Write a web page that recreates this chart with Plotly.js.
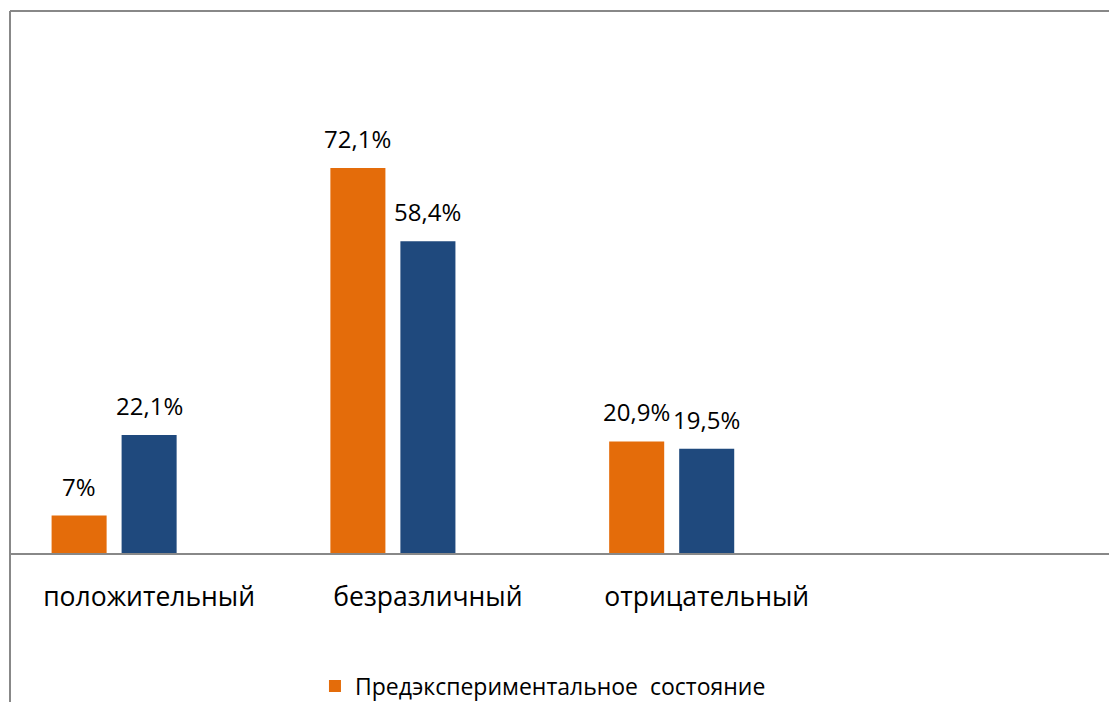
<!DOCTYPE html>
<html>
<head>
<meta charset="utf-8">
<script src="https://cdn.plot.ly/plotly-3.0.1.min.js"></script>
<style>html,body{margin:0;padding:0;background:#fff;}#chart{width:1109px;height:702px;}</style>
</head>
<body>
<div id="chart"></div>
<script>
var categories = ['положительный', 'безразличный', 'отрицательный'];
var seriesNames = ['Предэкспериментальное  состояние', 'Постэкспериментальное  состояние'];
var preValues = [7, 72.1, 20.9];
var postValues = [22.1, 58.4, 19.5];
var preLabels = ['7%', '72,1%', '20,9%'];
var postLabels = ['22,1%', '58,4%', '19,5%'];
var emptyValues = [null, null, null];

var font = 'Open Sans, Noto Sans, sans-serif';

var traces = [
  {type: 'bar', name: seriesNames[0], x: categories, y: preValues,
   marker: {color: '#E46C0A'}, hoverinfo: 'skip', showlegend: true},
  {type: 'bar', name: seriesNames[1], x: categories, y: postValues,
   marker: {color: '#1F497D'}, hoverinfo: 'skip', showlegend: false},
  {type: 'bar', name: '', x: categories, y: emptyValues,
   marker: {color: '#9BBB59'}, hoverinfo: 'skip', showlegend: false}
];

// data labels built from the arrays; x offset matches the bar slot in each group
var annotations = [];
function addLabels(vals, labels, slotShift) {
  for (var i = 0; i < categories.length; i++) {
    annotations.push({
      x: categories[i], y: vals[i], xref: 'x', yref: 'y',
      text: labels[i], showarrow: false,
      xanchor: 'center', yanchor: 'bottom',
      xshift: slotShift, yshift: 11,
      font: {family: font, size: 24, color: '#000'}
    });
  }
}
addLabels(preValues, preLabels, -70);
addLabels(postValues, postLabels, 0);

var layout = {
  width: 1109, height: 702,
  margin: {l: 10, r: 0, t: 11, b: 149, pad: 0},
  paper_bgcolor: '#fff', plot_bgcolor: '#fff',
  barmode: 'group', bargap: 0.2466, bargroupgap: 0.214,
  font: {family: font, color: '#000'},
  xaxis: {
    type: 'category', range: [-0.499, 3.443], fixedrange: true,
    showline: true, linecolor: '#888888', linewidth: 2,
    showgrid: false, zeroline: false, ticks: '',
    ticklabelstandoff: 19,
    tickfont: {family: font, size: 26.5, color: '#000'}
  },
  yaxis: {
    range: [0, 101.5], visible: false, showgrid: false, zeroline: false, fixedrange: true
  },
  showlegend: true,
  legend: {
    orientation: 'h', x: 0.2775, xanchor: 'left',
    yref: 'container', y: 0.0228, yanchor: 'middle',
    font: {family: font, size: 23, color: '#000'},
    bgcolor: 'rgba(0,0,0,0)'
  },
  annotations: annotations,
  shapes: [
    {type: 'line', xref: 'paper', yref: 'paper', x0: 0, x1: 1.01, y0: 1, y1: 1,
     line: {color: '#888888', width: 2}},
    {type: 'line', xref: 'paper', yref: 'paper', x0: 0, x1: 0, y0: 1, y1: -0.3,
     line: {color: '#888888', width: 2}}
  ]
};

Plotly.newPlot('chart', traces, layout, {displayModeBar: false, staticPlot: true});
</script>
</body>
</html>
